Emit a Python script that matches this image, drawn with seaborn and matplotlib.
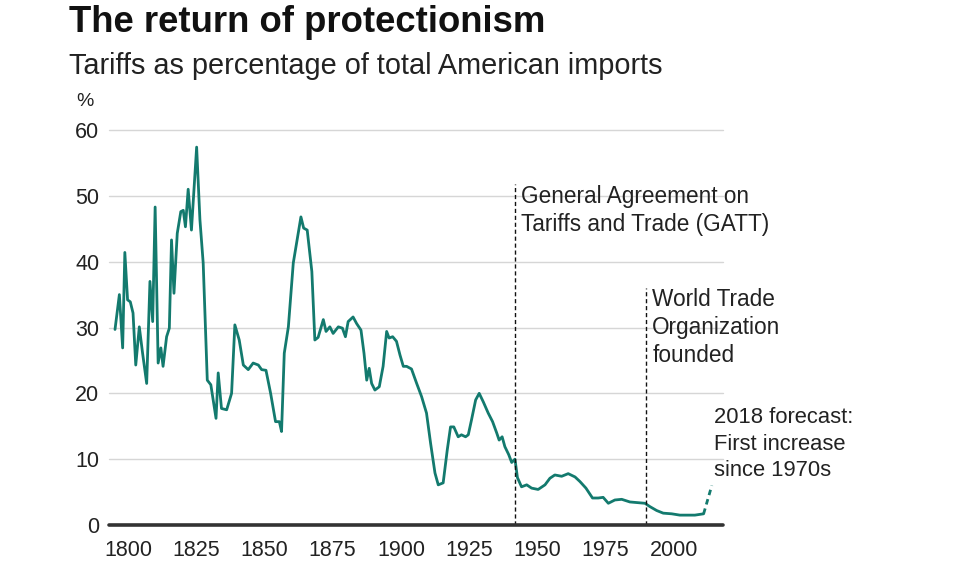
import matplotlib
matplotlib.use("Agg")
import matplotlib.pyplot as plt
import matplotlib.transforms as mtransforms
import pandas as pd
import seaborn as sns

# ---------------------------------------------------------------------------
# Data
# ---------------------------------------------------------------------------
years = [
    1800.4, 1802.0, 1803.2, 1804.0, 1805.0, 1806.0, 1807.0, 1808.0, 1809.3, 1810.5,
    1812.0, 1813.2, 1814.2, 1815.1, 1816.2, 1817.2, 1818.0, 1819.3, 1820.3, 1821.1,
    1822.0, 1823.2, 1824.5, 1825.4, 1826.2, 1827.2, 1828.4, 1830.3, 1831.5, 1832.7,
    1834.2, 1835.5, 1837.4, 1838.2, 1839.4, 1841.3, 1843.1, 1844.3, 1845.9, 1847.4,
    1849.2, 1851.0, 1852.9, 1854.1, 1855.7, 1857.4, 1859.2, 1860.6, 1861.4, 1862.4,
    1863.9, 1865.7, 1868.5, 1869.5, 1870.8, 1872.5, 1873.6, 1874.8, 1876.7, 1877.7,
    1879.1, 1880.3, 1882.2, 1883.7, 1884.8, 1885.8, 1887.6, 1888.9, 1890.5, 1891.6,
    1892.6, 1893.5, 1894.4, 1895.6, 1897.2, 1898.6, 1899.9, 1900.8, 1902.1, 1903.5,
    1904.8, 1906.0, 1907.2, 1909.0, 1910.9, 1912.7, 1914.5, 1916.0, 1917.6, 1918.8,
    1920.6, 1922.1, 1923.3, 1924.5, 1926.1, 1927.3, 1928.8, 1929.8, 1931.0, 1932.5,
    1933.8, 1935.3, 1937.1, 1938.7, 1940.2, 1941.1, 1942.2, 1943.2, 1944.6, 1945.7,
    1946.9, 1947.8, 1949.3, 1951.2, 1953.0, 1955.4, 1957.9, 1959.7, 1961.5, 1964.0,
    1966.4, 1968.9, 1970.7, 1972.9, 1975.3, 1977.4, 1979.2, 1981.1, 1983.5, 1986.0,
    1989.0, 1992.0, 1994.5, 1996.3, 1998.8, 2001.2, 2004.3, 2007.3, 2009.8, 2012.8,
    2016.0,
]
tariff_pct = [
    29.7, 35.0, 26.9, 41.4, 34.2, 33.9, 32.2, 24.3, 30.1, 26.1,
    21.5, 37.0, 30.9, 48.3, 24.6, 26.9, 24.1, 28.6, 29.9, 43.3,
    35.2, 44.3, 47.6, 47.8, 45.3, 51.0, 44.8, 57.4, 46.4, 39.8,
    22.0, 21.3, 16.2, 23.1, 17.7, 17.5, 20.0, 30.4, 28.1, 24.3,
    23.6, 24.6, 24.3, 23.6, 23.5, 20.0, 15.7, 15.7, 14.2, 26.1,
    30.1, 39.8, 46.8, 45.1, 44.8, 38.5, 28.1, 28.5, 31.2, 29.4,
    30.1, 29.1, 30.1, 29.9, 28.6, 30.9, 31.6, 30.6, 29.6, 26.1,
    22.0, 23.8, 21.5, 20.5, 21.0, 24.1, 29.4, 28.4, 28.6, 27.9,
    25.8, 24.1, 24.1, 23.7, 21.5, 19.5, 17.0, 12.4, 7.9, 6.1,
    6.4, 11.4, 14.9, 14.9, 13.4, 13.7, 13.4, 13.7, 16.0, 19.0,
    20.0, 18.7, 17.0, 15.7, 14.0, 12.9, 13.4, 11.9, 10.7, 9.5,
    10.0, 7.2, 5.8, 6.1, 5.6, 5.4, 6.1, 7.1, 7.6, 7.4,
    7.8, 7.3, 6.6, 5.6, 4.1, 4.1, 4.2, 3.3, 3.8, 3.9,
    3.5, 3.4, 3.3, 2.8, 2.2, 1.8, 1.7, 1.5, 1.5, 1.5,
    1.7,
]

forecast_years = [2016.0, 2019.0]
forecast_pct = [1.7, 6.0]

x_ticks = [1800, 1825, 1850, 1875, 1900, 1925, 1950, 1975, 2000]
y_ticks = [0, 10, 20, 30, 40, 50, 60]

# milestone lines: year, label, top of dashed line, label centre height
milestones = [
    (1947, "General Agreement on\nTariffs and Trade (GATT)", 51.8, 47.8),
    (1995, "World Trade\nOrganization\nfounded", 36.0, 30.0),
]
forecast_note = "2018 forecast:\nFirst increase\nsince 1970s"

LINE_COLOR = "#137a6e"
TEXT_COLOR = "#222222"

# ---------------------------------------------------------------------------
# Figure
# ---------------------------------------------------------------------------
sns.set_theme(style="white")
plt.rcParams["font.family"] = ["Liberation Sans", "DejaVu Sans"]

fig = plt.figure(figsize=(9.66, 5.85), dpi=100)
ax = fig.add_axes([109 / 966, 1 - 525 / 585, 614 / 966, 395 / 585])

hist = pd.DataFrame({"year": years, "pct": tariff_pct})
fc = pd.DataFrame({"year": forecast_years, "pct": forecast_pct})

sns.lineplot(data=hist, x="year", y="pct", ax=ax, color=LINE_COLOR,
             linewidth=2.0, estimator=None)
sns.lineplot(data=fc, x="year", y="pct", ax=ax, color=LINE_COLOR,
             linewidth=2.0, linestyle=(0, (2, 1.5)), estimator=None)

ax.set_xlim(1798.2, 2023.1)
ax.set_ylim(0, 60)

# grid lines & baseline
for v in y_ticks[1:]:
    ax.axhline(v, color="#d6d6d6", linewidth=1.0, zorder=0, clip_on=False)
ax.axhline(0, color="#333333", linewidth=2.6, zorder=3, clip_on=False)

for spine in ax.spines.values():
    spine.set_visible(False)

ax.set_xticks(x_ticks)
ax.set_xticklabels([str(t) for t in x_ticks])
ax.set_yticks(y_ticks)
ax.set_yticklabels([str(t) for t in y_ticks])
ax.tick_params(axis="both", length=0, labelsize=15.5, colors=TEXT_COLOR)
ax.tick_params(axis="x", pad=11)
ax.tick_params(axis="y", pad=7)

# labels in the reference sit a little to the right of the tick years
shift = mtransforms.ScaledTranslation(14 / 100, 0, fig.dpi_scale_trans)
for lbl in ax.get_xticklabels():
    lbl.set_transform(lbl.get_transform() + shift)

ax.set_xlabel("")
ax.set_ylabel("")

# milestone dashed lines and notes
for yr, label, top, mid in milestones:
    ax.plot([yr, yr], [0, top], color="#111111", linewidth=1.0,
            linestyle=(0, (3, 2)), zorder=2)
    ax.text(yr + 2.2, mid, label, fontsize=16.3, color=TEXT_COLOR,
            va="center", ha="left", linespacing=1.3)

ax.text(2019.8, 12.3, forecast_note, fontsize=15.8, color=TEXT_COLOR,
        va="center", ha="left", linespacing=1.33, clip_on=False)

# titles
fig.text(69 / 966, 1 - 23 / 585, "The return of protectionism",
         fontsize=26.3, fontweight="bold", color="#111111", va="center")
fig.text(69 / 966, 1 - 66 / 585, "Tariffs as percentage of total American imports",
         fontsize=20.8, color=TEXT_COLOR, va="center")
fig.text(76 / 966, 1 - 102 / 585, "%", fontsize=14, color=TEXT_COLOR, va="center")

fig.savefig("out.png", dpi=100, facecolor="white")
